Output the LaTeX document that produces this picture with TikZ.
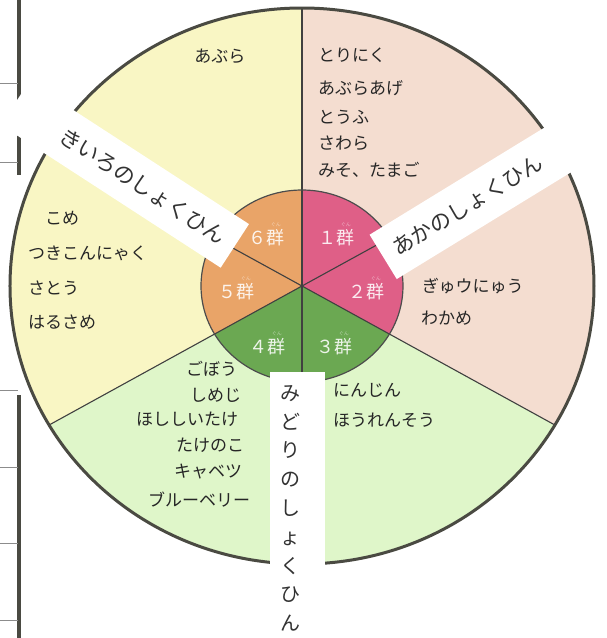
\documentclass[tikz,border=0pt]{standalone}
\usepackage{fontspec}
\setmainfont{Noto Sans CJK JP}
\usetikzlibrary{calc}

\definecolor{akabg}{HTML}{F4DDD0}
\definecolor{kiirobg}{HTML}{F9F6C4}
\definecolor{midoribg}{HTML}{DFF6C9}
\definecolor{akagun}{HTML}{DF5F87}
\definecolor{midorigun}{HTML}{6BA852}
\definecolor{kiirogun}{HTML}{E9A468}
\definecolor{rim}{HTML}{4A4A42}

\def\orx{292}\def\ory{278}
\def\irx{101}\def\iry{96}

\tikzset{
  hand/.style={font=\fontsize{17}{17}\selectfont, text=black!85, inner sep=0pt, anchor=west},
  gun/.style={font=\fontsize{18}{18}\selectfont, text=white, text opacity=0.88, inner sep=0pt},
  furi/.style={font=\fontsize{5}{5}\selectfont, text=white, text opacity=0.5, inner sep=0pt},
  band/.style={fill=white, minimum height=52pt, inner ysep=0pt, inner xsep=13pt, text width=236pt,
    font=\fontsize{21.5}{21.5}\selectfont, text=black!80},
  spoke/.style={draw=black!75, line width=1.1pt},
  rule/.style={draw=black!45, line width=0.5pt},
}

\begin{document}
\begin{tikzpicture}[x=1pt,y=1pt]
  \useasboundingbox (-302,-352) rectangle (304,286);
  %%%%% START %%%%%
  % page edge left of the chart
  \draw[rim, line width=3.5pt] (-283,286) -- (-283,176);
  \draw[rim, line width=3.5pt] (-283,154) -- (-283,111);
  \draw[rim, line width=3.5pt] (-283,-109) -- (-283,-352);
  \foreach \yy in {203,124,-104,-181,-257,-334}
    \draw[rule] (-302,\yy) -- (-284,\yy);

  % outer sectors
  \fill[akabg] (0,0) -- (90:{\orx} and {\ory}) arc[start angle=90, end angle=-30, x radius=\orx, y radius=\ory] -- cycle;
  \fill[kiirobg] (0,0) -- (90:{\orx} and {\ory}) arc[start angle=90, end angle=210, x radius=\orx, y radius=\ory] -- cycle;
  \fill[midoribg] (0,0) -- (210:{\orx} and {\ory}) arc[start angle=210, end angle=330, x radius=\orx, y radius=\ory] -- cycle;

  % inner sectors
  \fill[akagun] (0,0) -- (90:{\irx} and {\iry}) arc[start angle=90, end angle=-30, x radius=\irx, y radius=\iry] -- cycle;
  \fill[kiirogun] (0,0) -- (90:{\irx} and {\iry}) arc[start angle=90, end angle=210, x radius=\irx, y radius=\iry] -- cycle;
  \fill[midorigun] (0,0) -- (210:{\irx} and {\iry}) arc[start angle=210, end angle=330, x radius=\irx, y radius=\iry] -- cycle;

  % spokes
  \draw[spoke] (0,0) -- (90:{\orx} and {\ory});
  \draw[spoke] (0,0) -- (210:{\orx} and {\ory});
  \draw[spoke] (0,0) -- (330:{\orx} and {\ory});
  \foreach \a in {30,150,270}
    \draw[spoke] (0,0) -- (\a:{\irx} and {\iry});

  \draw[black!70, line width=1.2pt] (0,0) ellipse [x radius=\irx, y radius=\iry];
  \draw[rim, line width=3pt] (0,0) ellipse [x radius=\orx, y radius=\ory];

  % group numbers
  \node[gun] (g1) at (35,48) {１群};
  \node[gun] (g2) at (65,-6) {２群};
  \node[gun] (g3) at (33,-61) {３群};
  \node[gun] (g4) at (-34,-61) {４群};
  \node[gun] (g5) at (-65,-6) {５群};
  \node[gun] (g6) at (-35,48) {６群};
  \foreach \g in {g1,g2,g3,g4,g5,g6}
    \node[furi] at ($(\g.north)+(9,5)$) {ぐん};

  % white bands
  \node[band, rotate=31.5, anchor=west, align=left] (akaband) at (81,29) {あかのしょくひん};
  \node[band, rotate=-33, anchor=east, align=right] (kiiroband) at (-67,40) {きいろのしょくひん};
  \fill[white] (-32,-86) rectangle (23,-352);
  \node[font=\fontsize{20}{28.8}\selectfont, text=black!80, align=center, inner sep=0pt, anchor=north]
    (midoriband) at (-11,-99) {み\\ど\\り\\の\\し\\ょ\\く\\ひ\\ん};

  % foods
  \node[hand] at (16,231) {とりにく};
  \node[hand] at (16,198) {あぶらあげ};
  \node[hand] at (16,169) {とうふ};
  \node[hand] at (16,143) {さわら};
  \node[hand] at (16,116) {みそ、たまご};
  \node[hand] at (120,0) {ぎゅウにゅう};
  \node[hand] at (119,-32) {わかめ};

  \node[hand] at (31,-104) {にんじん};
  \node[hand] at (31,-134) {ほうれんそう};
  \node[hand] at (-116,-83) {ごぼう};
  \node[hand] at (-112,-109) {しめじ};
  \node[hand] at (-166,-133) {ほししいたけ};
  \node[hand] at (-126,-159) {たけのこ};
  \node[hand] at (-128,-186) {キャベツ};
  \node[hand] at (-154,-214) {ブルーベリー};

  \node[hand, anchor=center] at (-82,230) {あぶら};
  \node[hand] at (-257,68) {こめ};
  \node[hand] at (-274,33) {つきこんにゃく};
  \node[hand] at (-274,-2) {さとう};
  \node[hand] at (-274,-36) {はるさめ};
  %%%%% END %%%%%
\end{tikzpicture}
\end{document}
